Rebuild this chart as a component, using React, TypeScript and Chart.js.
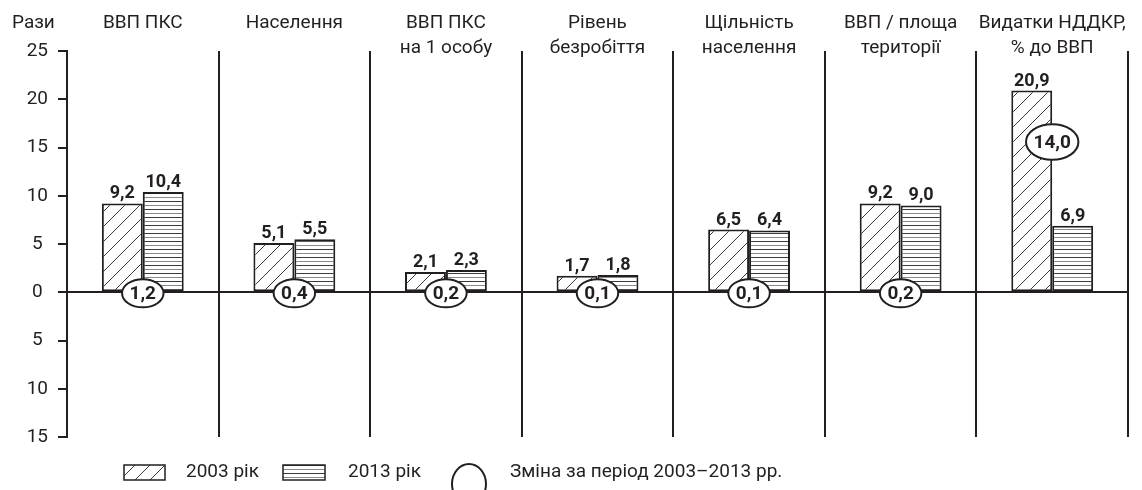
import React, { useEffect, useRef } from 'react';
import { Chart, registerables } from 'chart.js';

Chart.register(...registerables);

const categories: string[][] = [
  ['ВВП ПКС'],
  ['Населення'],
  ['ВВП ПКС', 'на 1 особу'],
  ['Рівень', 'безробіття'],
  ['Щільність', 'населення'],
  ['ВВП / площа', 'території'],
  ['Видатки НДДКР,', '% до ВВП'],
];
const values2003 = [9.2, 5.1, 2.1, 1.7, 6.5, 9.2, 20.9];
const values2013 = [10.4, 5.5, 2.3, 1.8, 6.4, 9.0, 6.9];
const changes = [1.2, 0.4, 0.2, 0.1, 0.1, 0.2, 14.0];
const seriesLabels = ['2003 рік', '2013 рік'];
const changeLabel = 'Зміна за період 2003–2013 рр.';
const unitLabel = 'Рази';
const yMin = -15;
const yMax = 25;
const yStep = 5;

const INK = '#231f20';
const FONT = 'Roboto';

const fmt = (v: number) => v.toFixed(1).replace('.', ',');

function makeDiag(): CanvasPattern | string {
  const s = 15;
  const c = document.createElement('canvas');
  c.width = s;
  c.height = s;
  const g = c.getContext('2d');
  if (!g) return '#fff';
  g.fillStyle = '#fff';
  g.fillRect(0, 0, s, s);
  g.strokeStyle = '#3a3a3a';
  g.lineWidth = 1;
  g.beginPath();
  g.moveTo(-2, s + 2);
  g.lineTo(s + 2, -2);
  g.moveTo(s - 2, s + 2);
  g.lineTo(s + 2, s - 2);
  g.moveTo(-2, 2);
  g.lineTo(2, -2);
  g.stroke();
  return g.createPattern(c, 'repeat') || '#fff';
}

function makeHoriz(): CanvasPattern | string {
  const c = document.createElement('canvas');
  c.width = 8;
  c.height = 8;
  const g = c.getContext('2d');
  if (!g) return '#fff';
  g.fillStyle = '#fff';
  g.fillRect(0, 0, 8, 8);
  g.fillStyle = '#3a3a3a';
  g.fillRect(0, 1, 8, 1);
  g.fillStyle = '#8a8a8a';
  g.fillRect(0, 5, 8, 1);
  return g.createPattern(c, 'repeat') || '#fff';
}

export default function App() {
  const ref = useRef<HTMLCanvasElement | null>(null);

  useEffect(() => {
    if (!ref.current) return;
    const diag = makeDiag();
    const horiz = makeHoriz();

    const overlay = {
      id: 'overlay',
      afterDatasetsDraw(chart: any) {
        const ctx = chart.ctx as CanvasRenderingContext2D;
        const xs = chart.scales.x;
        const ys = chart.scales.y;
        ctx.save();
        ctx.fillStyle = INK;
        ctx.font = `bold 18px ${FONT}`;
        ctx.textAlign = 'center';
        ctx.textBaseline = 'alphabetic';
        chart.data.datasets.forEach((ds: any, di: number) => {
          const meta = chart.getDatasetMeta(di);
          meta.data.forEach((bar: any, i: number) => {
            ctx.fillText(fmt(ds.data[i]), bar.x, bar.y - 5);
          });
        });
        changes.forEach((c, i) => {
          const maxV = Math.max(values2003[i], values2013[i]);
          const anchor = c > 5 ? maxV * 0.75 : 0;
          const cx = xs.getPixelForValue(i);
          const cy = ys.getPixelForValue(anchor) + 1;
          ctx.font = `bold 19px ${FONT}`;
          const tw = ctx.measureText(fmt(c)).width;
          const rx = (tw + 15) / 2;
          const ry = rx * 0.68;
          ctx.beginPath();
          ctx.ellipse(cx, cy, rx, ry, 0, 0, Math.PI * 2);
          ctx.fillStyle = '#fff';
          ctx.fill();
          ctx.lineWidth = 2;
          ctx.strokeStyle = INK;
          ctx.stroke();
          ctx.fillStyle = INK;
          ctx.textBaseline = 'middle';
          ctx.fillText(fmt(c), cx, cy + 1);
        });
        ctx.restore();
      },
      afterDraw(chart: any) {
        const ctx = chart.ctx as CanvasRenderingContext2D;
        const xs = chart.scales.x;
        ctx.save();
        ctx.fillStyle = INK;
        ctx.font = `19px ${FONT}`;
        ctx.textBaseline = 'middle';

        // category titles above the plot
        ctx.textAlign = 'center';
        (chart.data.labels as string[][]).forEach((lines, i) => {
          const cx = xs.getPixelForValue(i);
          lines.forEach((line, j) => ctx.fillText(line, cx, 23 + j * 25));
        });

        ctx.textAlign = 'left';
        ctx.fillText(unitLabel, 12, 23);

        const ly = 472;
        // box 1
        ctx.fillStyle = diag as any;
        ctx.fillRect(124, 465, 41, 15);
        ctx.lineWidth = 1.5;
        ctx.strokeStyle = INK;
        ctx.strokeRect(124, 465, 41, 15);
        ctx.fillStyle = INK;
        ctx.fillText(seriesLabels[0], 186, ly);
        // box 2
        ctx.fillStyle = horiz as any;
        ctx.fillRect(283, 465, 42, 15);
        ctx.strokeRect(283, 465, 42, 15);
        ctx.fillStyle = INK;
        ctx.fillText(seriesLabels[1], 348, ly);
        // ellipse
        ctx.beginPath();
        ctx.ellipse(469, 484, 17, 20, 0, 0, Math.PI * 2);
        ctx.lineWidth = 2;
        ctx.stroke();
        ctx.fillText(changeLabel, 510, ly);
        ctx.restore();
      },
    };

    const chart = new Chart(ref.current, {
      type: 'bar',
      data: {
        labels: categories,
        datasets: [
          {
            label: seriesLabels[0],
            data: values2003,
            backgroundColor: diag as any,
            borderColor: INK,
            borderWidth: 2,
            borderSkipped: false,
          },
          {
            label: seriesLabels[1],
            data: values2013,
            backgroundColor: horiz as any,
            borderColor: INK,
            borderWidth: 2,
            borderSkipped: false,
          },
        ],
      },
      options: {
        animation: false,
        responsive: true,
        maintainAspectRatio: false,
        datasets: {
          bar: { categoryPercentage: 0.54, barPercentage: 1 },
        },
        layout: { padding: { left: 0, right: 14, top: 0, bottom: 53 } },
        plugins: {
          legend: { display: false },
          tooltip: { enabled: false },
        },
        scales: {
          x: {
            position: 'top',
            offset: true,
            border: { display: false },
            grid: {
              display: true,
              offset: true,
              color: INK,
              lineWidth: 2,
              drawTicks: false,
            },
            ticks: { display: false },
            afterFit(scale: any) {
              scale.height = 51;
            },
          },
          y: {
            min: yMin,
            max: yMax,
            border: { display: true, color: INK, width: 2 },
            grid: {
              color: (c: any) => (c.tick && c.tick.value === 0 ? INK : 'rgba(0,0,0,0)'),
              lineWidth: 2,
              tickColor: INK,
              tickLength: 9,
              drawTicks: true,
            },
            ticks: {
              stepSize: yStep,
              crossAlign: 'center',
              padding: 10,
              color: INK,
              font: { family: FONT, size: 19 },
              callback: (v: any) => String(Math.abs(Number(v))),
            },
            afterFit(scale: any) {
              scale.width = 67;
            },
          },
        },
      },
      plugins: [overlay],
    } as any);

    return () => chart.destroy();
  }, []);

  return (
    <div style={{ position: 'fixed', left: 0, top: 0, width: 1142, height: 490, background: '#fff' }}>
      <canvas ref={ref} />
    </div>
  );
}
